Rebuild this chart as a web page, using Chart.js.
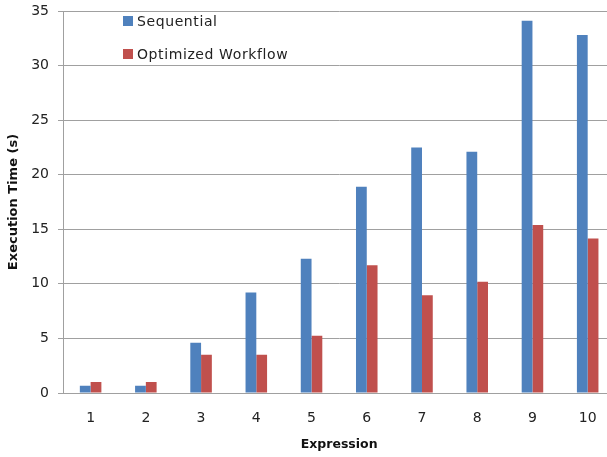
<!DOCTYPE html>
<html><head><meta charset="utf-8">
<script src="https://cdn.jsdelivr.net/npm/chart.js@4.4.1/dist/chart.umd.min.js"></script>
<style>
html,body{margin:0;padding:0;background:#fff;overflow:hidden;width:607px;height:457px}
#wrap{position:relative;width:620px;height:457px}
canvas{display:block}
.lg{position:absolute;left:123px;font:14px 'DejaVu Sans',sans-serif;letter-spacing:0.6px;color:#222;display:flex;align-items:center;white-space:nowrap;height:16px}
.lg .sw{display:inline-block;width:10px;height:10px;margin-right:4px}
</style></head><body>
<div id="wrap"><canvas id="c" width="620" height="457"></canvas></div>
<script>
const categories = ['1','2','3','4','5','6','7','8','9','10'];
const seriesNames = ['Sequential','Optimized Workflow'];
const sequential = [0.67, 0.67, 4.6, 9.2, 12.3, 18.9, 22.5, 22.1, 34.1, 32.8];
const optimized = [1.0, 1.0, 3.5, 3.5, 5.25, 11.7, 8.95, 10.2, 15.4, 14.15];
const colors = ['#4F81BD','#C0504D'];
const legendTops = [13, 46];

const wrap = document.getElementById('wrap');
seriesNames.forEach((n,i)=>{
  const d = document.createElement('div');
  d.className='lg'; d.style.top = legendTops[i]+'px';
  const s = document.createElement('span'); s.className='sw'; s.style.background=colors[i];
  d.appendChild(s); d.appendChild(document.createTextNode(n));
  wrap.appendChild(d);
});

const tickFont = {family:"'DejaVu Sans', sans-serif", size:14};
new Chart(document.getElementById('c'), {
  type:'bar',
  data:{labels:categories, datasets:[
    {label:seriesNames[0], data:sequential, backgroundColor:colors[0], borderWidth:0},
    {label:seriesNames[1], data:optimized, backgroundColor:colors[1], borderWidth:0}
  ]},
  options:{
    responsive:false, animation:false, devicePixelRatio:1,
    layout:{padding:{top:11,right:4.7,bottom:0,left:0}},
    datasets:{bar:{barPercentage:1, categoryPercentage:0.39}},
    plugins:{legend:{display:false}, tooltip:{enabled:false}},
    scales:{
      x:{
        offset:true,
        grid:{display:false, drawTicks:false},
        border:{display:true, color:'#a0a0a0', width:1},
        ticks:{font:tickFont, color:'#222', padding:17, maxRotation:0},
        title:{display:true, text:'Expression', font:{family:"'DejaVu Sans', sans-serif", size:12.5, weight:'bold'}, color:'#111', padding:{top:0,bottom:5}},
        afterFit:s=>{s.height=64; s.paddingLeft=0; s.paddingRight=0;}
      },
      y:{
        min:0, max:35,
        grid:{color:'#a0a0a0', lineWidth:1, tickLength:5, drawTicks:true},
        border:{display:true, color:'#a0a0a0', width:1},
        ticks:{stepSize:5, font:tickFont, color:'#222', padding:9},
        title:{display:true, text:'Execution Time (s)', font:{family:"'DejaVu Sans', sans-serif", size:13, weight:'bold'}, color:'#111', padding:{top:6,bottom:0}},
        afterFit:s=>{s.width=63; s.paddingTop=0; s.paddingBottom=0;}
      }
    }
  }
});
</script>
</body></html>
